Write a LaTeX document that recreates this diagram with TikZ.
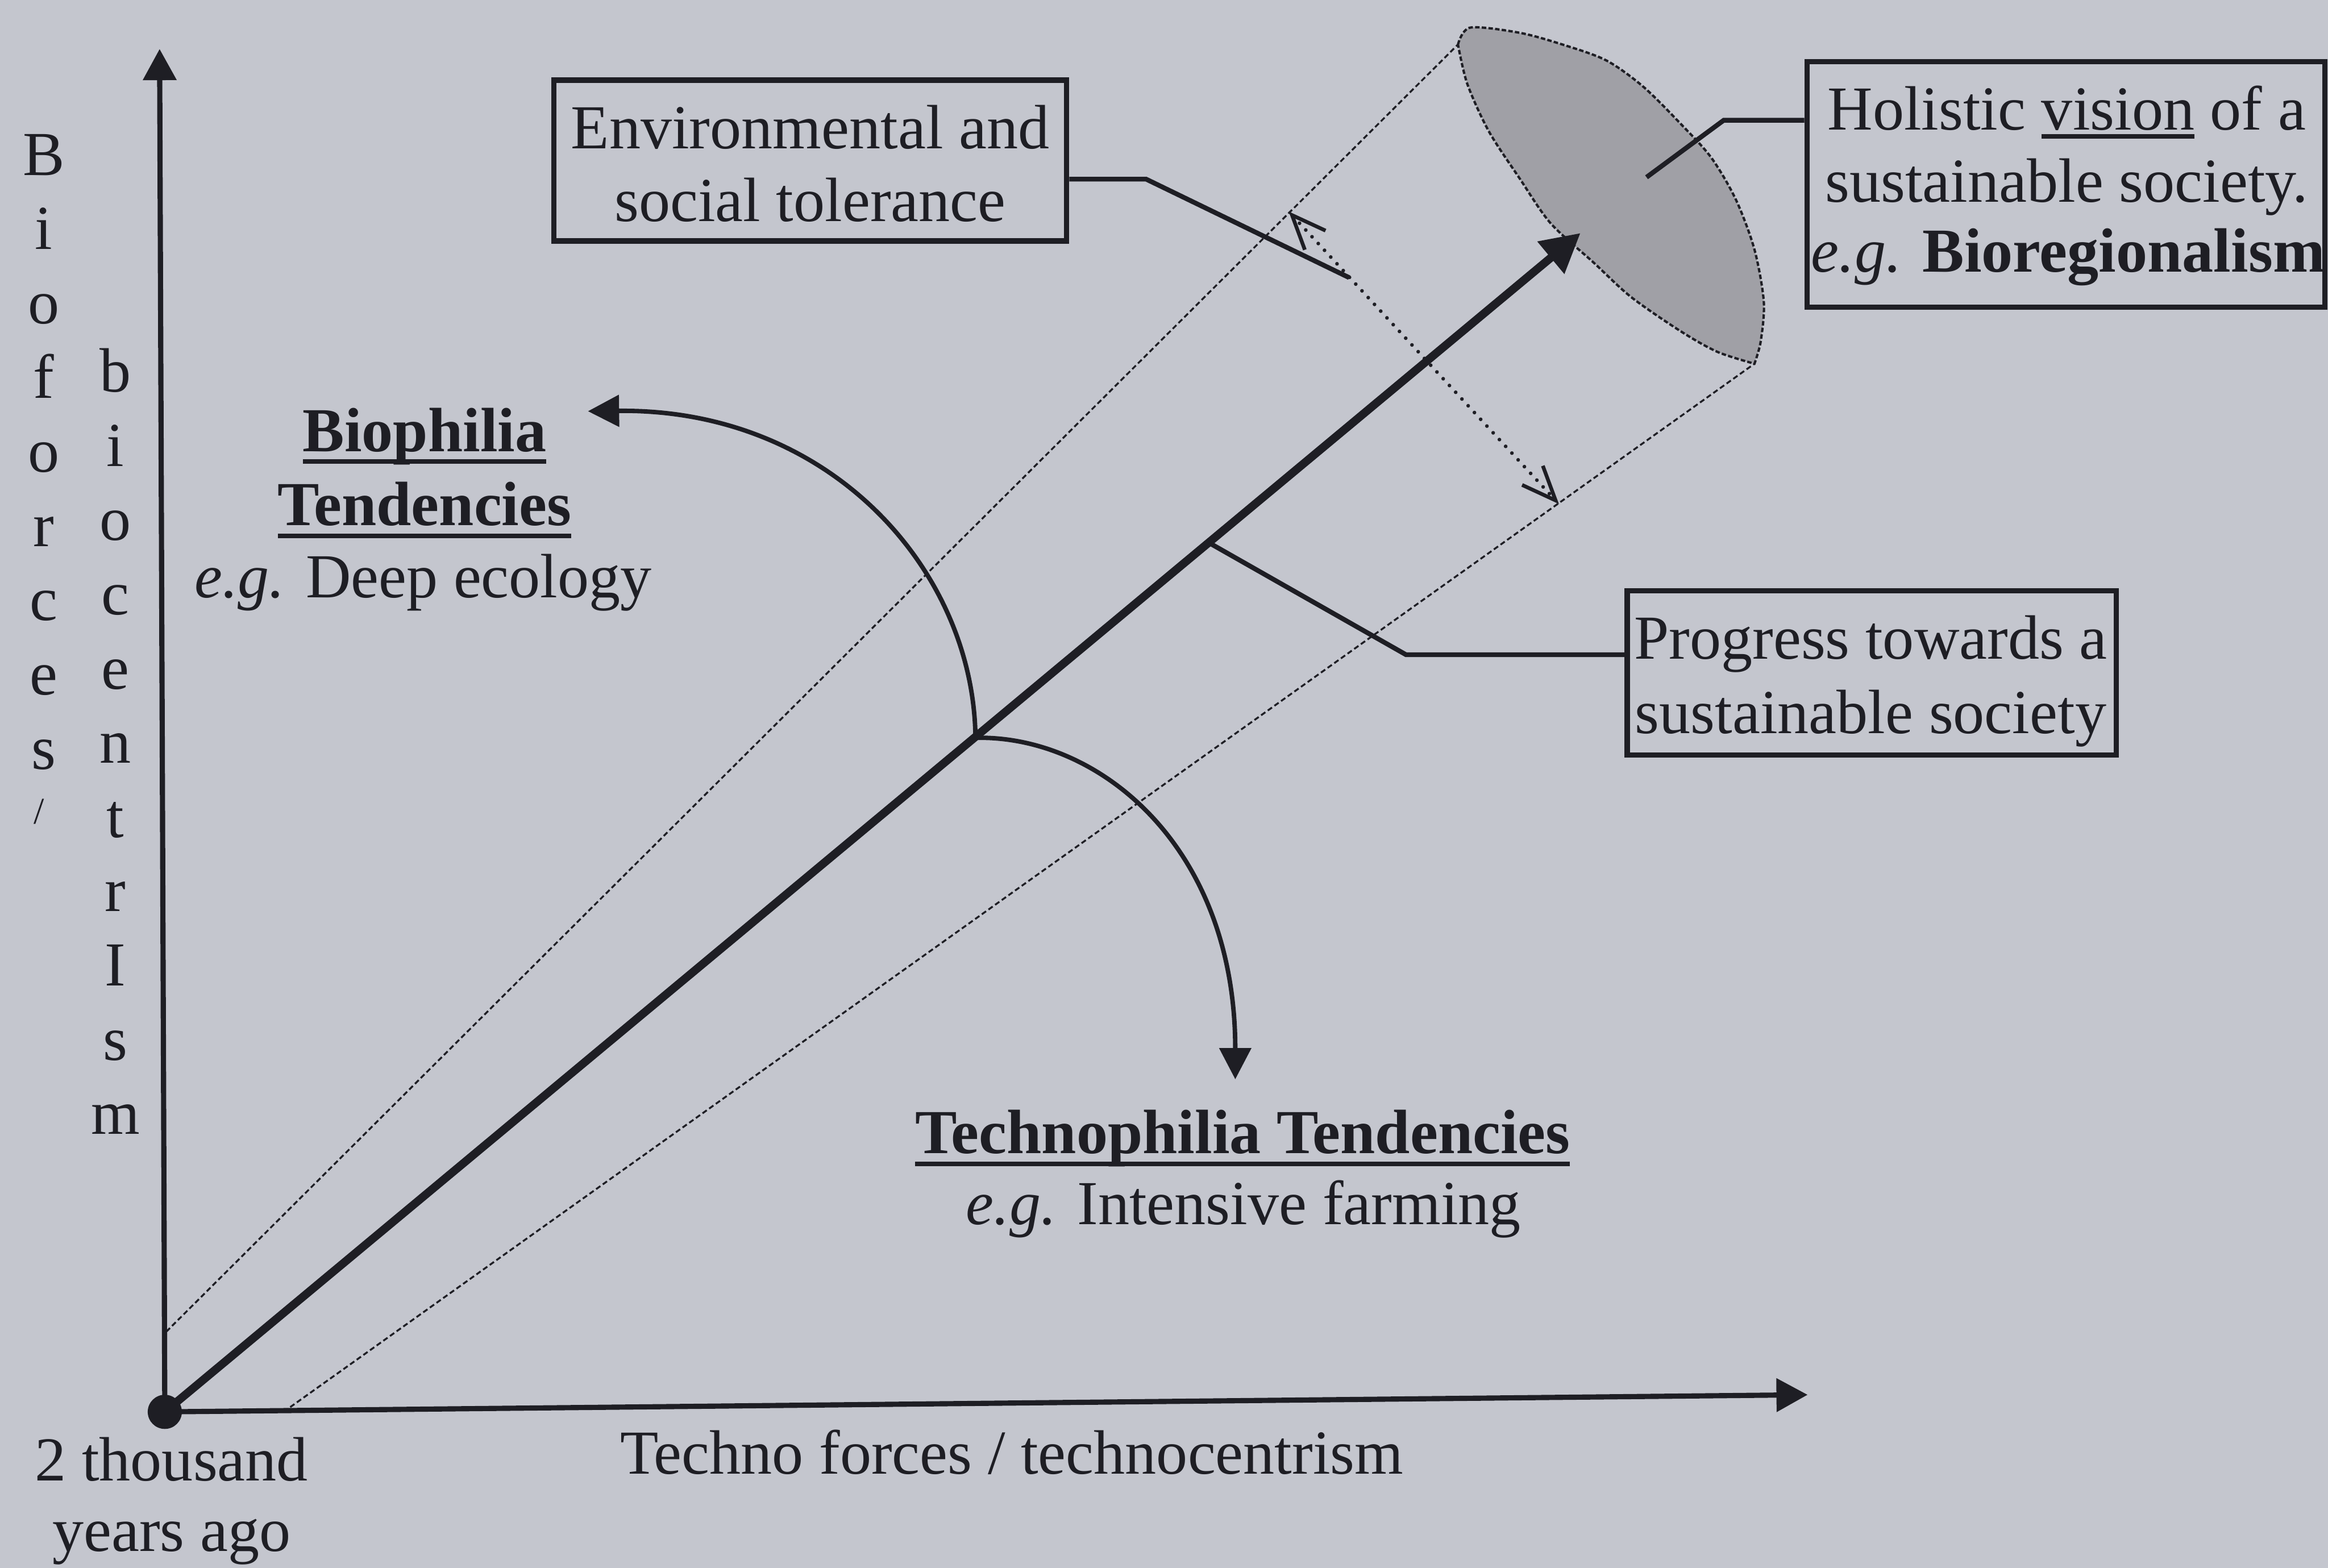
\documentclass[tikz,border=0pt]{standalone}
\usepackage{graphicx}
\usepackage{fontspec}
\setmainfont{Liberation Serif}
\usetikzlibrary{arrows.meta}

\definecolor{paper}{RGB}{196,198,206}
\definecolor{ink}{RGB}{30,30,36}
\definecolor{stipple}{RGB}{160,160,166}

% underline drawn as a rule a fixed distance below the baseline
\newcommand\ulbar[2][0.85mm]{\setbox0=\hbox{#2}\rlap{\rule[-#1]{\wd0}{0.3mm}}\box0\relax}

\tikzset{
  every node/.style={text=ink, font=\fontsize{12}{14}\selectfont},
  axis/.style={draw=ink, line width=0.35mm, -{Triangle[length=2.1mm,width=2.2mm]}},
  cone/.style={draw=ink, line width=0.36pt, dash pattern=on 0.35mm off 0.2mm},
  mainarrow/.style={draw=ink, line width=0.55mm, -{Triangle[length=2.6mm,width=2.7mm]}},
  swing/.style={draw=ink, line width=0.3mm, -{Triangle[length=2.1mm,width=2.1mm]}},
  tolerance/.style={draw=ink, line width=0.25mm, dash pattern=on 0pt off 0.62mm, line cap=round,
    {Straight Barb[length=2.3mm,width=1.9mm,line width=0.25mm]}-{Straight Barb[length=2.3mm,width=1.9mm,line width=0.25mm]}},
  labelbox/.style={draw=ink, line width=0.35mm, inner sep=0pt},
  leader/.style={draw=ink, line width=0.32mm},
  txt/.style={anchor=base, inner sep=0pt},
}

\begin{document}
\begin{tikzpicture}[x=0.1mm, y=-0.1mm]
\path[use as bounding box, fill=paper] (0,0) rectangle (1568,1056);

% key points
\coordinate (O) at (111,951);
\coordinate (ytip) at (107.5,33);
\coordinate (xtip) at (1217.5,939.5);
\coordinate (maintip) at (1064.5,157);
\coordinate (coneA1) at (112,897);
\coordinate (coneA2) at (982,30);
\coordinate (coneB1) at (191,951);
\coordinate (coneB2) at (1181.7,245);
\coordinate (tolA) at (868,142.5);
\coordinate (tolB) at (1050,339.5);
\coordinate (fork) at (657,497);
\coordinate (biotip) at (396,277);
\coordinate (technotip) at (832,727);

% cone of tolerance
\draw[cone] (coneA1) -- (coneA2);
\draw[cone] (coneB1) -- (coneB2);

% holistic vision disc
\filldraw[fill=stipple, draw=ink, line width=0.45pt, dash pattern=on 0.3mm off 0.15mm]
  plot[smooth] coordinates {(982,30) (990.3,18.6) (1023.6,22.1) (1052.7,30.1) (1081.9,40.7)
    (1106.8,58.4) (1131.8,83.2) (1152.6,106.2) (1169.2,134.5) (1181.7,168.1) (1188,203.4)
    (1185.9,230) (1181.7,245)}
  -- plot[smooth] coordinates {(1181.7,245) (1156.7,237) (1131.8,223) (1098.5,200) (1073.5,177)
    (1044.4,150.4) (1023.6,120.3) (1002.8,88.5) (988.3,56.6) (982,30)}
  -- cycle;

% boxes
\node[labelbox, minimum width=34.55mm, minimum height=10.83mm] (envbox) at (545.75,108.15) {};
\node[labelbox, minimum width=34.9mm, minimum height=16.54mm] (holbox) at (1391.5,124.3) {};
\node[labelbox, minimum width=32.95mm, minimum height=11.07mm] (progbox) at (1260.75,453.35) {};

% leader lines
\coordinate (envknee) at (772,120.7);
\coordinate (envtip) at (908.7,187);
\coordinate (holknee) at (1161,81);
\coordinate (holtip) at (1109,119.4);
\coordinate (progknee) at (947,441);
\coordinate (progtip) at (815,366);
\draw[leader] (envbox.east |- envknee) -- (envknee) -- (envtip);
\draw[leader] (holbox.west |- holknee) -- (holknee) -- (holtip);
\draw[leader] (progbox.west |- progknee) -- (progknee) -- (progtip);

% axes
\draw[axis] (O) -- (ytip);
\draw[axis] (O) -- (xtip);

% progress arrow
\draw[mainarrow] (O) -- (maintip);

% tolerance span
\draw[tolerance] (tolA) -- (tolB);

% diverging tendencies
\draw[swing] (fork) .. controls (656,385) and (560,275) .. (biotip);
\draw[swing] (fork) .. controls (740,495) and (832,570) .. (technotip);

% origin dot
\node[circle, fill=ink, inner sep=0pt, minimum size=2.3mm] (dot) at (O) {};

% box texts
\node[txt] (env1) at (545.7,100) {Environmental and};
\node[txt] (env2) at (545.7,149) {social tolerance};
\node[txt] (hol1) at (1392,87.6) {Holistic \ulbar[0.58mm]{vision} of a};
\node[txt] (hol2) at (1392,136) {sustainable society.};
\node[txt] (hol3) at (1393,183) {\textit{e.g.} \textbf{Bioregionalism}};
\node[txt] (prog1) at (1260,444) {Progress towards a};
\node[txt] (prog2) at (1260,494) {sustainable society};

% tendency labels
\node[txt] (bio1) at (286,304) {\textbf{\ulbar{Biophilia}}};
\node[txt] (bio2) at (286,354) {\textbf{\ulbar{Tendencies}}};
\node[txt] (bio3) at (285,402.5) {\textit{e.g.} Deep ecology};
\node[txt] (tech1) at (837,777) {\textbf{\ulbar{Technophilia Tendencies}}};
\node[txt] (tech2) at (837.5,824.7) {\textit{e.g.} Intensive farming};

% axis labels
\node[txt] (xlab) at (681.5,993) {Techno forces / technocentrism};
\node[txt] (orig1) at (115.5,997.6) {2 thousand};
\node[txt] (orig2) at (115.5,1044.7) {years ago};
\foreach \ch [count=\k] in {B,i,o,f,o,r,c,e,s}
  \node[txt] (bf\k) at (29.5,{118+50*\k-50}) {\ch};
\node[txt] (bfslash) at (26.4,555) {\scalebox{0.6}{/}};
\foreach \ch [count=\k] in {b,i,o,c,e,n,t,r,I,s,m}
  \node[txt] (bc\k) at (77.7,{264+50*\k-50}) {\ch};
\end{tikzpicture}
\end{document}
